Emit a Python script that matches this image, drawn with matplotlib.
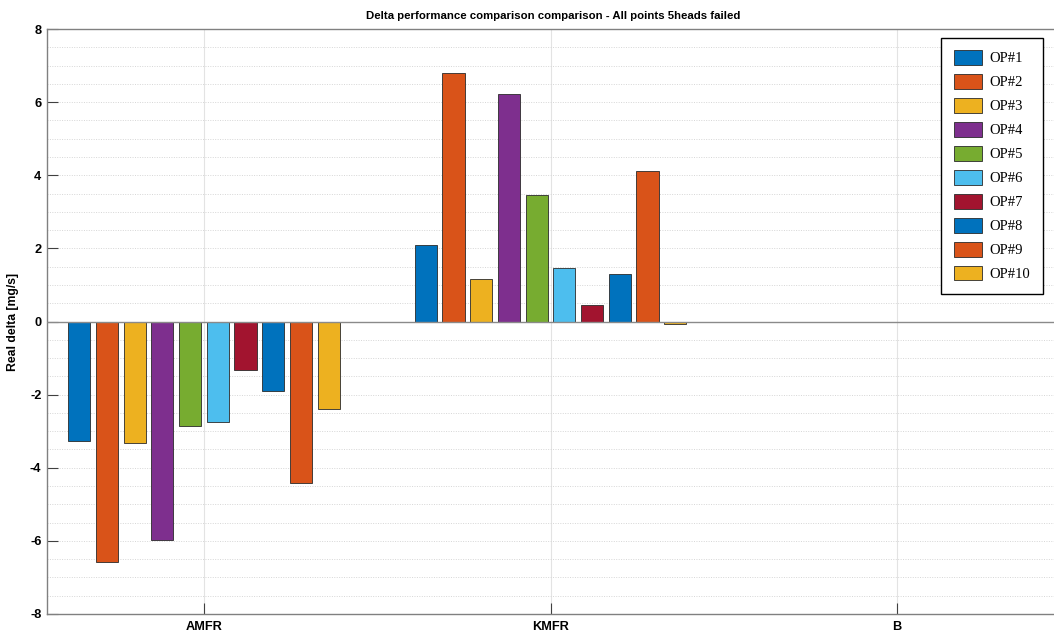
import numpy as np
import matplotlib.pyplot as plt
from matplotlib import font_manager
from matplotlib.ticker import MultipleLocator

categories = ["AMFR", "KMFR", "B"]
series_names = ["OP#1", "OP#2", "OP#3", "OP#4", "OP#5",
                "OP#6", "OP#7", "OP#8", "OP#9", "OP#10"]

amfr = [-3.27, -6.58, -3.33, -5.98, -2.86, -2.76, -1.34, -1.89, -4.43, -2.40]
kmfr = [2.08, 6.80, 1.17, 6.22, 3.47, 1.47, 0.44, 1.30, 4.12, -0.08]
b_vals = [0, 0, 0, 0, 0, 0, 0, 0, 0, 0]

colors = ["#0072BD", "#D95319", "#EDB120", "#7E2F8E", "#77AC30",
          "#4DBEEE", "#A2142F", "#0072BD", "#D95319", "#EDB120"]


def pick_font():
    # narrow sans like the MATLAB export, if one is installed
    for name, scale in [("Liberation Sans Narrow", 1.0),
                        ("DejaVu Sans Condensed", 0.88)]:
        try:
            font_manager.findfont(name, fallback_to_default=False)
            return name, scale
        except ValueError:
            pass
    return "Liberation Sans", 0.8


def main():
    plt.rcParams["axes.unicode_minus"] = False

    values = np.array([amfr, kmfr, b_vals])
    n_groups, n_series = values.shape
    x = np.arange(1, n_groups + 1)
    pitch = 0.8 / n_series
    width = pitch * 0.8

    font, scale = pick_font()

    fig = plt.figure(figsize=(10.54, 6.35), dpi=100)
    ax = fig.add_axes([0.0446, 0.0331, 0.961, 0.9212])

    for i in range(n_series):
        offs = (i - (n_series - 1) / 2) * pitch
        ax.bar(x + offs, values[:, i], width=width, color=colors[i],
               edgecolor="#2a2a2a", linewidth=0.6, label=series_names[i],
               zorder=3)

    ax.axhline(0, color="#8a8a8a", linewidth=1.0, zorder=4)

    ax.set_xlim(0.547, 3.47)
    ax.set_ylim(-8, 8)
    ax.set_xticks(x)
    ax.set_xticklabels(categories)
    ax.yaxis.set_major_locator(MultipleLocator(2))
    ax.yaxis.set_minor_locator(MultipleLocator(0.5))

    ax.grid(True, axis="x", which="major", color="#e3e3e3", linewidth=0.8,
            linestyle="-", zorder=0)
    ax.grid(True, axis="y", which="both", color="#d6d6d6", linewidth=0.7,
            linestyle=(0, (1, 1.5)), zorder=0)

    for s in ax.spines.values():
        s.set_color("#808080")
        s.set_linewidth(1.0)
    ax.spines["right"].set_visible(False)

    ax.tick_params(axis="both", which="major", direction="in", length=8,
                   width=0.8, color="#404040")
    ax.tick_params(axis="y", which="minor", length=0)
    ax.tick_params(axis="x", pad=5)
    ax.tick_params(axis="y", pad=4)

    for lab in ax.get_xticklabels() + ax.get_yticklabels():
        lab.set_family(font)
        lab.set_fontweight("bold")
        lab.set_fontsize(11.5 * scale)

    ax.set_ylabel("Real delta [mg/s]", fontsize=11 * scale,
                  fontweight="bold", family=font)
    ax.yaxis.set_label_coords(-0.0276, 0.5)
    ax.set_title("Delta performance comparison comparison - All points 5heads failed",
                 fontsize=10.2 * scale, fontweight="bold", family=font, pad=7)

    leg = ax.legend(loc="upper right", bbox_to_anchor=(0.983, 0.985),
                    borderaxespad=0,
                    prop={"family": "Liberation Serif", "size": 10.5},
                    fancybox=False, framealpha=1, edgecolor="black",
                    handlelength=1.92, handleheight=1.16, labelspacing=0.6,
                    borderpad=0.85, handletextpad=0.55)
    leg.get_frame().set_linewidth(1.0)

    fig.savefig("out.png", dpi=100)


if __name__ == "__main__":
    main()
